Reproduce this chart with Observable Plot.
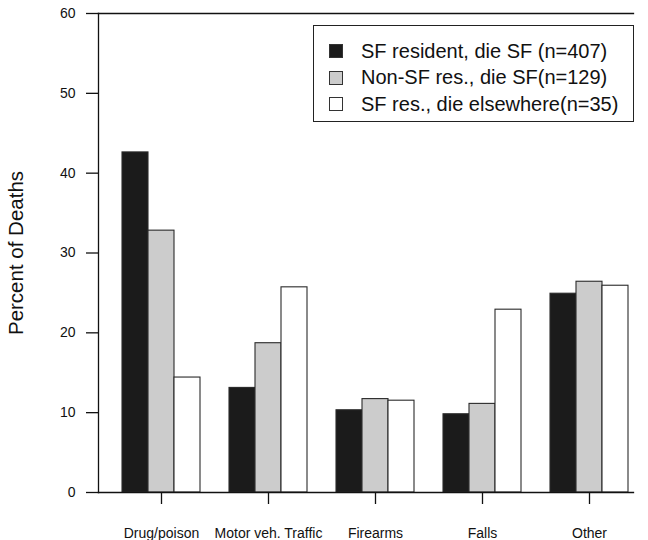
<!DOCTYPE html>
<html>
<head>
<meta charset="utf-8">
<script src="https://cdn.jsdelivr.net/npm/d3@7"></script>
<script src="https://cdn.jsdelivr.net/npm/@observablehq/plot@0.6"></script>
<style>
  html, body { margin: 0; padding: 0; background: #fff; }
  #chart { position: relative; width: 648px; height: 540px; font-family: Arial, "Liberation Sans", sans-serif; }
  #chart svg { display: block; }
  .legend {
    position: absolute; left: 313px; top: 25px; width: 321px; height: 97px;
    border: 1.3px solid #222; background: #fff; box-sizing: border-box;
    font-size: 20px; color: #111; padding: 12px 0 0 15px;
  }
  .legend .row { display: flex; align-items: center; height: 26.5px; }
  .legend .sw { width: 12px; height: 12px; border: 1px solid #333; margin-right: 18px; flex: none; }
</style>
</head>
<body>
<div id="chart"></div>
<script>
// Cause-of-death categories along the x axis
const categories = ["Drug/poison", "Motor veh. Traffic", "Firearms", "Falls", "Other"];

// Residence / place-of-death groups
const seriesNames = [
  "SF resident, die SF (n=407)",
  "Non-SF res., die SF(n=129)",
  "SF res., die elsewhere(n=35)"
];
const seriesColors = ["#1b1b1b", "#cccccc", "#ffffff"];

// Percent of deaths per category, one array per group
const sfResidentDieSF = [42.6, 13.1, 10.3, 9.8, 24.9];
const nonSFResDieSF = [32.8, 18.7, 11.7, 11.1, 26.4];
const sfResDieElsewhere = [14.4, 25.7, 11.5, 22.9, 25.9];

const yTicks = [0, 10, 20, 30, 40, 50, 60];

const seriesValues = [sfResidentDieSF, nonSFResDieSF, sfResDieElsewhere];
const rows = categories.flatMap((category, i) =>
  seriesNames.map((series, j) => ({category, series, value: seriesValues[j][i]}))
);

const font = 'Arial, "Liberation Sans", sans-serif';
const lineStyle = {stroke: "#111", strokeWidth: 1.3};

const plot = Plot.plot({
  width: 648,
  height: 540,
  marginTop: 13,
  marginBottom: 48,
  marginLeft: 98,
  marginRight: 0,
  style: {fontFamily: font, color: "#111", background: "#fff"},
  fx: {domain: categories, axis: null, paddingInner: 0, paddingOuter: 0.07, align: 0},
  x: {domain: seriesNames, axis: null, paddingInner: 0, paddingOuter: 0.506, align: 0.815},
  y: {domain: [0, 60], axis: null},
  color: {domain: seriesNames, range: seriesColors},
  marks: [
    Plot.barY(rows, {
      fx: "category", x: "series", y: "value",
      fill: "series", stroke: "#2a2a2a", strokeWidth: 1.1
    }),
    // open frame: top, bottom and left lines across the whole plot area
    Plot.frame({anchor: "top", facet: "super", ...lineStyle}),
    Plot.frame({anchor: "bottom", facet: "super", ...lineStyle}),
    Plot.frame({anchor: "left", facet: "super", ...lineStyle}),
    Plot.axisY({
      ticks: yTicks, tickSize: 12, tickPadding: 11, fontSize: 14,
      label: null, ...lineStyle
    }),
    Plot.axisY({
      ticks: [], label: "Percent of Deaths", labelAnchor: "center",
      labelArrow: "none", labelOffset: 90, fontSize: 20.5
    }),
    // group tick below the axis, at the centre of each group
    Plot.axisX({
      ticks: [seriesNames[1]], tickSize: 12, tickFormat: () => "",
      label: null, ...lineStyle
    }),
    Plot.text(categories, {
      fx: d => d, x: () => seriesNames[1], text: d => d,
      frameAnchor: "bottom", lineAnchor: "bottom", dy: 45, fontSize: 14, fill: "#111"
    })
  ]
});

const chart = document.getElementById("chart");
chart.append(plot);

// legend box inside the plot area
const legend = document.createElement("div");
legend.className = "legend";
seriesNames.forEach((name, i) => {
  const row = document.createElement("div");
  row.className = "row";
  const sw = document.createElement("span");
  sw.className = "sw";
  sw.style.background = seriesColors[i];
  const label = document.createElement("span");
  label.textContent = name;
  row.append(sw, label);
  legend.append(row);
});
chart.append(legend);
</script>
</body>
</html>
